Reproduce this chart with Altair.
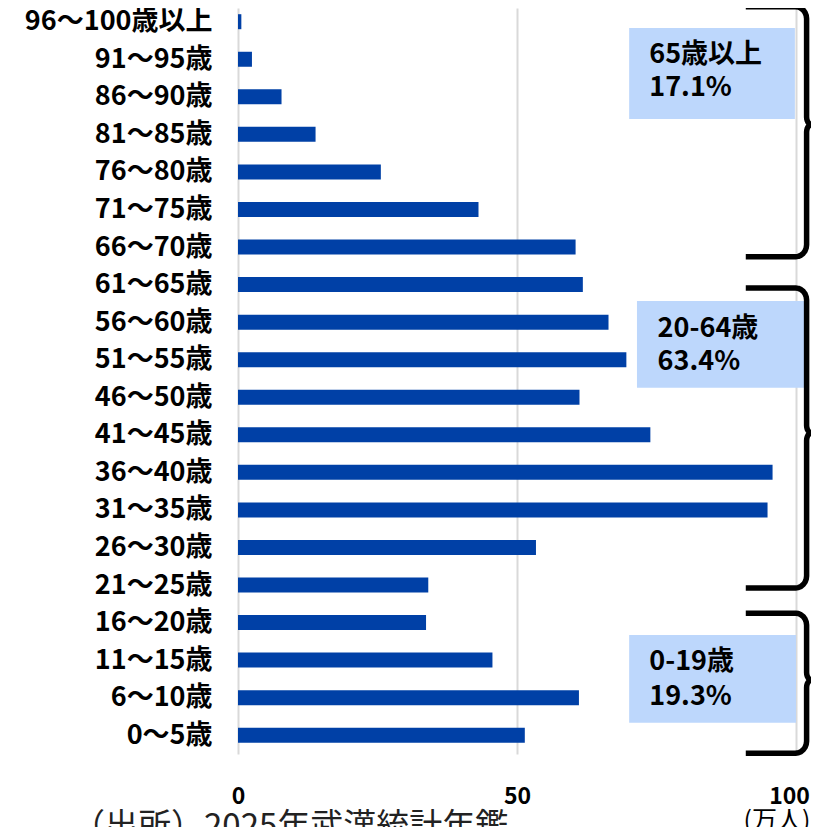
import altair as alt
import pandas as pd
import math

# ---- data ----
ages = ["0～5歳", "6～10歳", "11～15歳", "16～20歳", "21～25歳", "26～30歳",
        "31～35歳", "36～40歳", "41～45歳", "46～50歳", "51～55歳", "56～60歳",
        "61～65歳", "66～70歳", "71～75歳", "76～80歳", "81～85歳", "86～90歳",
        "91～95歳", "96～100歳以上"]
population = [51.4, 61.1, 45.6, 33.7, 34.1, 53.4, 94.9, 95.8, 73.9, 61.2,
              69.6, 66.4, 61.8, 60.5, 43.1, 25.6, 13.9, 7.8, 2.5, 0.6]  # 万人

x_ticks = [0, 50, 100]

groups = ["65歳以上", "20-64歳", "0-19歳"]
shares = ["17.1%", "63.4%", "19.3%"]

# annotation layout (in axis units: x = 万人, y = row index)
box_x0 = [70.1, 71.5, 70.1]
box_x1 = [99.8, 101.6, 100.0]
box_top = [18.83, 11.56, 2.67]
box_bottom = [16.41, 9.25, 0.33]
text_x = [73.7, 75.2, 73.7]
line1_y = [18.12, 10.81, 1.95]
line2_y = [17.24, 9.93, 1.02]
brace_top = [19.40, 11.91, 3.25]
brace_tip = [16.26, 8.05, 1.47]
brace_bottom = [12.74, 3.92, -0.48]

FONT = "Noto Sans CJK JP"
BAR = "#0040A6"
BOX = "#BDD7FC"

df = pd.DataFrame({"idx": list(range(len(ages))), "age": ages, "pop": population})

boxes = pd.DataFrame({"x0": box_x0, "x1": box_x1, "y0": box_top, "y1": box_bottom})

texts = pd.DataFrame({
    "x": text_x * 2,
    "y": line1_y + line2_y,
    "t": groups + shares,
})

# brace outlines built from each group's extent
rows = []
xa, xv, xt = 91.0, 101.9, 102.8
rx, ry = 2.0, 0.32
ry2 = 0.2
n = 6
for g in range(3):
    top, tip, bot = brace_top[g], brace_tip[g], brace_bottom[g]
    pts = [(xa, top)]
    cx, cy = xv - rx, top - ry
    for k in range(n + 1):
        th = math.pi / 2 - (math.pi / 2) * k / n
        pts.append((cx + rx * math.cos(th), cy + ry * math.sin(th)))
    cx, cy = xt, tip + ry2
    rx2 = xt - xv
    for k in range(n + 1):
        th = math.pi + (math.pi / 2) * k / n
        pts.append((cx + rx2 * math.cos(th), cy + ry2 * math.sin(th)))
    cx, cy = xt, tip - ry2
    for k in range(n + 1):
        th = math.pi / 2 + (math.pi / 2) * k / n
        pts.append((cx + rx2 * math.cos(th), cy + ry2 * math.sin(th)))
    cx, cy = xv - rx, bot + ry
    for k in range(n + 1):
        th = -(math.pi / 2) * k / n
        pts.append((cx + rx * math.cos(th), cy + ry * math.sin(th)))
    pts.append((xa, bot))
    for i, (px, py) in enumerate(pts):
        rows.append({"g": g, "k": i, "x": px, "y": py})
braces = pd.DataFrame(rows)

label_expr = "[" + ",".join("'" + a + "'" for a in ages) + "][datum.value]"

xscale = alt.Scale(domain=[0, 100], nice=False, zero=True, padding=0)
yscale = alt.Scale(domain=[-0.5, 19.365], nice=False, zero=False, padding=0)

bars = alt.Chart(df).mark_bar(orient="horizontal", size=15, color=BAR).encode(
    x=alt.X("pop:Q", scale=xscale,
            axis=alt.Axis(values=x_ticks, tickCount=10, grid=True, gridColor="#d9d9d9",
                          gridWidth=2, domain=False, ticks=False, labelFlush=False,
                          labelOffset=alt.condition("datum.value == 100",
                                                    alt.value(-7), alt.value(0)),
                          labelFont=FONT, labelFontSize=23, labelFontWeight="bold",
                          labelColor="#000", labelPadding=31,
                          title="(万人)", titleFont=FONT, titleFontSize=25,
                          titleFontWeight="normal", titleColor="#000",
                          titleX=572, titleY=66, titleAlign="right",
                          titleBaseline="middle")),
    y=alt.Y("idx:Q", scale=yscale,
            axis=alt.Axis(values=list(range(len(ages))), tickCount=40,
                          labelExpr=label_expr, labelOverlap=False, labelLimit=0,
                          grid=False, domain=False, ticks=False,
                          labelFont=FONT, labelFontSize=27, labelFontWeight="bold",
                          labelColor="#000", labelPadding=26, title=None)),
)

rects = alt.Chart(boxes).mark_rect(color=BOX).encode(
    x=alt.X("x0:Q", scale=xscale), x2="x1:Q",
    y=alt.Y("y0:Q", scale=yscale), y2="y1:Q",
)

labels = alt.Chart(texts).mark_text(
    align="left", baseline="middle", font=FONT, fontSize=27,
    fontWeight="bold", color="#000"
).encode(
    x=alt.X("x:Q", scale=xscale), y=alt.Y("y:Q", scale=yscale), text="t:N"
)

brace_lines = alt.Chart(braces).mark_line(
    color="#000", strokeWidth=5.5, strokeJoin="round", strokeCap="butt"
).encode(
    x=alt.X("x:Q", scale=xscale), y=alt.Y("y:Q", scale=yscale),
    detail="g:N", order="k:Q"
)

chart = alt.layer(bars, rects, labels, brace_lines).properties(
    width=558, height=746,
    autosize=alt.AutoSizeParams(type="none"),
    padding={"left": 230, "top": 0, "right": 15, "bottom": 73},
    background="white",
    title=alt.TitleParams(
        "（出所）2025年武漢統計年鑑", orient="bottom", anchor="start",
        frame="group", font=FONT, fontSize=33, fontWeight="normal",
        color="#222", dx=-166, offset=-22,
    ),
).configure_view(stroke=None)

chart.save("out.html", embed_options={"renderer": "svg", "actions": False})
